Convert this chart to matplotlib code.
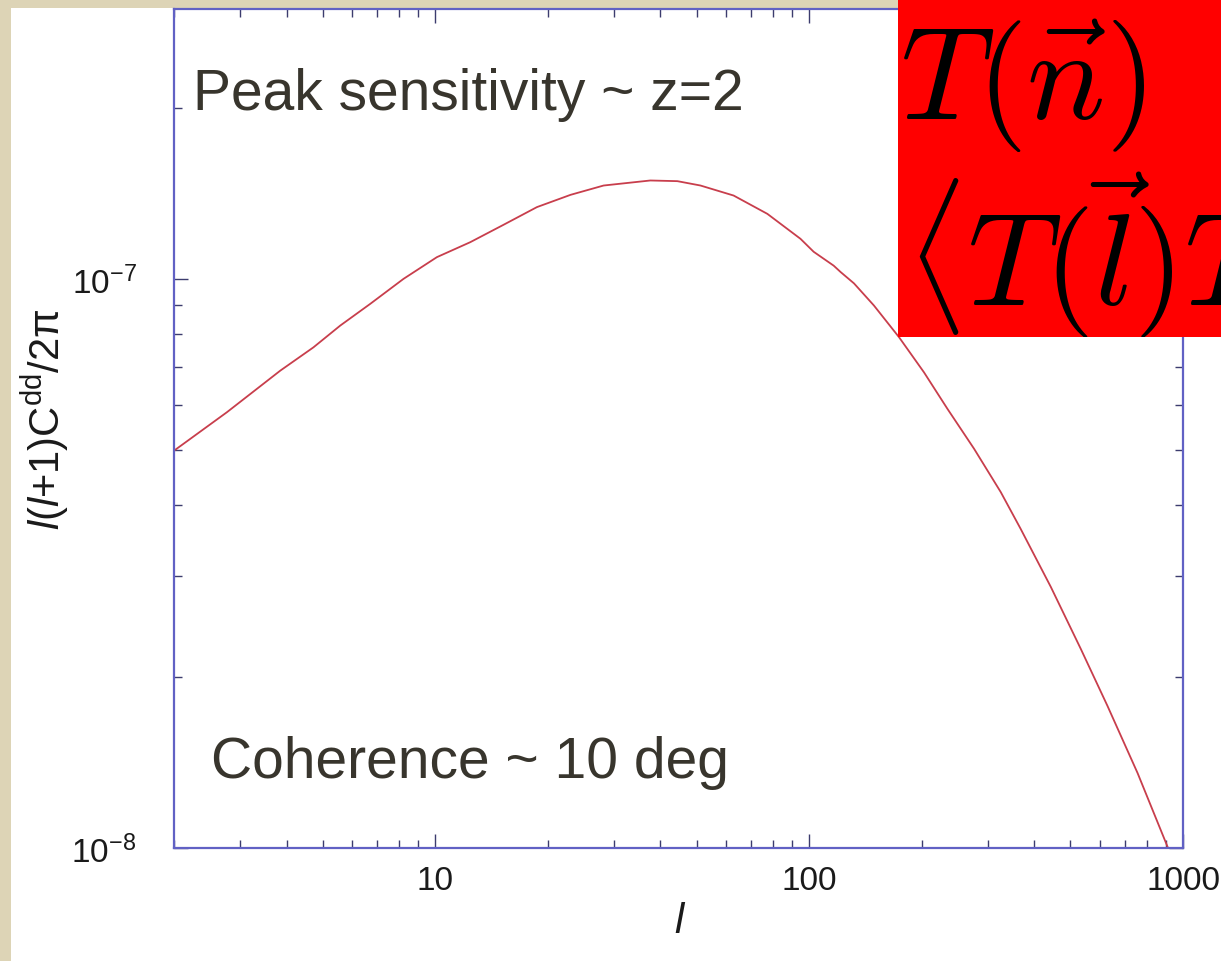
import matplotlib
matplotlib.use("Agg")
import matplotlib.pyplot as plt
from matplotlib.patches import Rectangle
from matplotlib.ticker import LogLocator, FixedLocator, NullFormatter, FixedFormatter

plt.rcParams['font.family'] = ['Liberation Sans', 'DejaVu Sans']
plt.rcParams['mathtext.fontset'] = 'custom'
plt.rcParams['mathtext.rm'] = 'Liberation Sans'
plt.rcParams['mathtext.it'] = 'Liberation Sans:italic'
plt.rcParams['mathtext.bf'] = 'Liberation Sans:bold'

# ---- data ----
ell = [2, 2.77, 3.85, 4.72, 5.57, 6.70, 8.22, 10.1, 12.4, 15.2, 18.7, 23.0,
       28.2, 37.6, 44.4, 51.2, 62.8, 77.3, 94.8, 102.8, 116.3, 121.4, 131.8,
       149.0, 173.9, 202.9, 234.4, 276.1, 325.5, 368, 443, 533, 628, 756,
       912]
power = [4.99e-8, 5.83e-8, 6.90e-8, 7.58e-8, 8.28e-8, 9.04e-8, 1.0e-7,
         1.092e-7, 1.160e-7, 1.244e-7, 1.337e-7, 1.405e-7, 1.459e-7,
         1.489e-7, 1.485e-7, 1.459e-7, 1.401e-7, 1.301e-7, 1.176e-7,
         1.116e-7, 1.055e-7, 1.028e-7, 9.82e-8, 8.98e-8, 7.90e-8, 6.85e-8,
         5.91e-8, 5.03e-8, 4.22e-8, 3.636e-8, 2.876e-8, 2.237e-8, 1.777e-8,
         1.354e-8, 1.0e-8]
x_ticks = [10, 100, 1000]
x_ticklabels = ['10', '100', '1000']
y_ticks = [1e-8, 1e-7]
y_ticklabels = [r'$\mathregular{10^{-8}}$', r'$\mathregular{10^{-7}}$']
xlim = (2, 1000)
ylim = (1e-8, 2.98e-7)
note_top = 'Peak sensitivity ~ z=2'
note_bottom = 'Coherence ~ 10 deg'
eq_line1 = r'$T(\vec{n})$'
eq_line2 = r"$\langle T(\vec{l})T(\vec{l}')\rangle$"

W, H = 1221, 962
fig = plt.figure(figsize=(W / 100, H / 100), dpi=100)
fig.patch.set_facecolor('#ddd4b6')

# white slide panel
fig.add_artist(Rectangle((11 / W, 0), 1 - 11 / W, 1 - 9 / H, transform=fig.transFigure,
                         facecolor='white', edgecolor='none', zorder=-5))

ax = fig.add_axes([174 / W, 1 - 849 / H, (1183 - 174) / W, (849 - 10) / H])
ax.set_facecolor('white')
ax.plot(ell, power, color='#c83e4c', lw=1.3)
ax.set_xscale('log')
ax.set_yscale('log')
ax.set_xlim(*xlim)
ax.set_ylim(*ylim)

ax.xaxis.set_major_locator(FixedLocator(x_ticks))
ax.xaxis.set_major_formatter(FixedFormatter(x_ticklabels))
ax.xaxis.set_minor_locator(LogLocator(base=10, subs=range(2, 10)))
ax.xaxis.set_minor_formatter(NullFormatter())
ax.yaxis.set_major_locator(FixedLocator(y_ticks))
ax.yaxis.set_major_formatter(FixedFormatter(y_ticklabels))
ax.yaxis.set_minor_locator(LogLocator(base=10, subs=range(2, 10)))
ax.yaxis.set_minor_formatter(NullFormatter())

for s in ax.spines.values():
    s.set_color('#6161c4')
    s.set_linewidth(1.6)
ax.tick_params(which='both', direction='in', top=True, right=True, color='#3c3c6e', width=1.0)
ax.tick_params(which='major', length=10)
ax.tick_params(which='minor', length=6)
ax.tick_params(axis='x', which='major', labelsize=24, pad=12, labelcolor='#1a1a1a')
ax.tick_params(axis='y', which='major', labelsize=24, pad=27, labelcolor='#1a1a1a')

# axis labels
fig.text(680 / W, 1 - 922 / H, r'$\mathit{l}$', fontsize=30, ha='center', va='center', color='#1a1a1a')
fig.text(45 / W, 1 - 419 / H, r'$\mathit{l}(\mathit{l}$+1)C$^{\mathregular{dd}}$/2π',
         fontsize=30, rotation=90, ha='center', va='center', color='#1a1a1a')

# annotations
ax.text(193 / W, 1 - 110 / H, note_top, transform=fig.transFigure, fontsize=41,
        color='#38352d', ha='left', va='baseline')
ax.text(211 / W, 1 - 778 / H, note_bottom, transform=fig.transFigure, fontsize=41,
        color='#38352d', ha='left', va='baseline')

# red equation box
box = Rectangle((898 / W, 1 - 338 / H), 1 - 898 / W, 338 / H, transform=fig.transFigure,
                facecolor='#ff0000', edgecolor='none', zorder=5)
fig.add_artist(box)
t1 = fig.text(900 / W, 1 - 120 / H, eq_line1, fontsize=94, math_fontfamily='cm',
              color='black', ha='left', va='baseline', zorder=6)
t2 = fig.text(906 / W, 1 - 306 / H, eq_line2, fontsize=94, math_fontfamily='cm',
              color='black', ha='left', va='baseline', zorder=6)
t1.set_clip_path(box)
t2.set_clip_path(box)

fig.savefig('out.png', dpi=100)
